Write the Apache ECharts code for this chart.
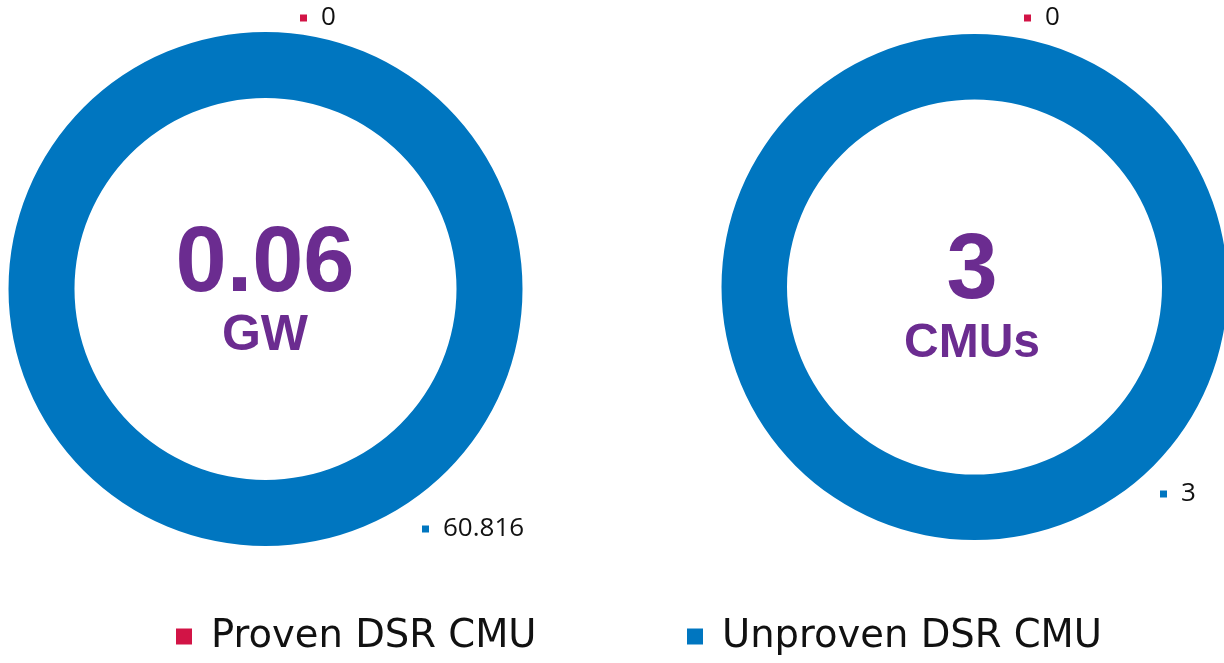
<!DOCTYPE html>
<html>
<head>
<meta charset="utf-8">
<script src="https://cdn.jsdelivr.net/npm/echarts@6/dist/echarts.min.js"></script>
<style>
html,body{margin:0;padding:0;background:#fff;}
#c{width:1224px;height:663px;}
</style>
</head>
<body>
<div id="c"></div>
<script>
var categories = ['Proven DSR CMU', 'Unproven DSR CMU'];
var capacityValues = [0, 60.816];
var countValues = [0, 3];
var centerValues = ['0.06', '3'];
var centerUnits = ['GW', 'CMUs'];
var colors = ['#D21446', '#0076C0'];
var purple = '#6B2C90';

var chart = echarts.init(document.getElementById('c'));

function pieData(vals) {
  return categories.map(function (n, i) {
    return { name: n, value: vals[i], itemStyle: { color: colors[i] } };
  });
}

function labelCfg() {
  return {
    show: true,
    position: 'outside',
    formatter: function (p) {
      return '{' + (p.dataIndex === 0 ? 'a' : 'b') + '| }{v|' + p.value + '}';
    },
    rich: {
      a: { width: 7, height: 7, backgroundColor: colors[0], fontSize: 1 },
      b: { width: 7, height: 7, backgroundColor: colors[1], fontSize: 1 },
      v: { fontFamily: 'Open Sans', fontSize: 26, color: '#111', padding: [0, 0, 0, 14] }
    }
  };
}

var labelPos = [
  [[300, 18], [422, 529]],
  [[1024, 18], [1160, 494]]
];

var legendText = { fontFamily: 'DejaVu Sans', fontSize: 38.5, color: '#111', padding: [0, 0, 0, 14] };

var option = {
  animation: false,
  legend: [
    {
      data: [categories[0]], left: 171, top: 612, icon: 'rect', itemWidth: 16, itemHeight: 16, itemGap: 0,
      textStyle: legendText, selectedMode: false
    },
    {
      data: [categories[1]], left: 682, top: 612, icon: 'rect', itemWidth: 16, itemHeight: 16, itemGap: 0,
      textStyle: legendText, selectedMode: false
    }
  ],
  series: [
    {
      type: 'pie', silent: true, clockwise: true, startAngle: 90,
      center: [265.5, 289], radius: [191, 257],
      itemStyle: { borderWidth: 0 },
      label: labelCfg(),
      labelLine: { show: false },
      labelLayout: function (p) {
        var pos = labelPos[0][p.dataIndex];
        return { x: pos[0], y: pos[1], align: 'left', verticalAlign: 'middle' };
      },
      emphasis: { disabled: true },
      data: pieData(capacityValues)
    },
    {
      type: 'pie', silent: true, clockwise: true, startAngle: 90,
      center: [974.5, 287], radius: [187.5, 253],
      itemStyle: { borderWidth: 0 },
      label: labelCfg(),
      labelLine: { show: false },
      labelLayout: function (p) {
        var pos = labelPos[1][p.dataIndex];
        return { x: pos[0], y: pos[1], align: 'left', verticalAlign: 'middle' };
      },
      emphasis: { disabled: true },
      data: pieData(countValues)
    }
  ],
  graphic: [
    { type: 'text', x: 265, y: 266, style: { text: centerValues[0], fill: purple, font: 'bold 92px "Liberation Sans", Arial', textAlign: 'center', textVerticalAlign: 'middle' } },
    { type: 'text', x: 265, y: 336, style: { text: centerUnits[0], fill: purple, font: 'bold 50px "Liberation Sans", Arial', textAlign: 'center', textVerticalAlign: 'middle' } },
    { type: 'text', x: 972, y: 273, style: { text: centerValues[1], fill: purple, font: 'bold 92px "Liberation Sans", Arial', textAlign: 'center', textVerticalAlign: 'middle' } },
    { type: 'text', x: 972, y: 344, style: { text: centerUnits[1], fill: purple, font: 'bold 48px "Liberation Sans", Arial', textAlign: 'center', textVerticalAlign: 'middle' } }
  ]
};

chart.setOption(option);
</script>
</body>
</html>
